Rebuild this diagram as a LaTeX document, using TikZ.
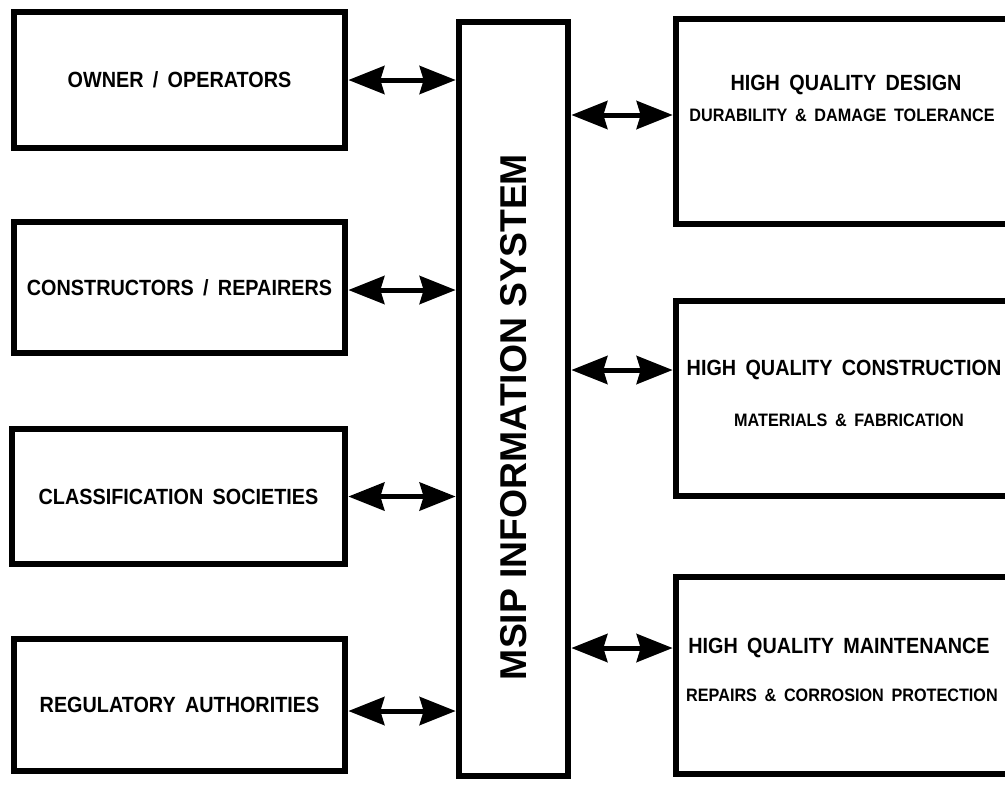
\documentclass[tikz,border=0pt]{standalone}
\usepackage{fontspec}
\newfontfamily\boxfont[FakeStretch=0.9,WordSpace=1.7]{Liberation Sans}
\newfontfamily\sysfont{Liberation Sans}
\usetikzlibrary{arrows.meta}

\tikzset{
  blk/.style={draw, line width=5pt, inner sep=0pt},
  lbl/.style={font=\boxfont\bfseries\fontsize{16.5}{18}\selectfont},
  sublbl/.style={font=\boxfont\bfseries\fontsize{13.5}{15}\selectfont},
  link/.style={line width=3.75pt, {Stealth[length=27pt,width=21pt,inset=3pt]}-{Stealth[length=27pt,width=21pt,inset=3pt]}},
}

\begin{document}
\begin{tikzpicture}[x=0.75pt,y=-0.75pt]
			%%%%% START %%%%%
			\useasboundingbox (0,0) rectangle (1005,785);
			
			% left column
			\node[blk, lbl, minimum width=331*0.75pt, minimum height=136*0.75pt] (own) at (179.5,80) {OWNER / OPERATORS};
			\node[blk, lbl, minimum width=331*0.75pt, minimum height=131*0.75pt] (cons) at (179.5,287.5) {CONSTRUCTORS / REPAIRERS};
			\node[blk, lbl, minimum width=333*0.75pt, minimum height=135*0.75pt] (clas) at (178.5,496.5) {CLASSIFICATION SOCIETIES};
			\node[blk, lbl, minimum width=331*0.75pt, minimum height=132*0.75pt] (regu) at (179.5,705) {REGULATORY AUTHORITIES};
			
			% information system
			\node[blk, minimum width=109*0.75pt, minimum height=754*0.75pt] (msip) at (513.5,399) {};
			\node[rotate=90, font=\sysfont\bfseries\fontsize{28}{30}\selectfont] (msiptxt) at (513.5,417) {MSIP INFORMATION SYSTEM};
			
			% right column
			\node[blk, minimum width=336*0.75pt, minimum height=205*0.75pt] (dsgn) at (844,121.5) {};
			\node[lbl] (dsgnA) at (846,85) {HIGH QUALITY DESIGN};
			\node[sublbl] (dsgnB) at (842,115) {DURABILITY \& DAMAGE TOLERANCE};
			
			\node[blk, minimum width=336*0.75pt, minimum height=195*0.75pt] (cnst) at (844,398.5) {};
			\node[lbl] (cnstA) at (844,370) {HIGH QUALITY CONSTRUCTION};
			\node[sublbl] (cnstB) at (849,420) {MATERIALS \& FABRICATION};
			
			\node[blk, minimum width=336*0.75pt, minimum height=197*0.75pt] (mnt) at (844,675.5) {};
			\node[lbl] (mntA) at (839,648) {HIGH QUALITY MAINTENANCE};
			\node[sublbl] (mntB) at (842,695) {REPAIRS \& CORROSION PROTECTION};
			
			% links
			\draw[link] (own.east) -- (own.east -| msip.west);
			\draw[link] (cons.east |- 0,290) -- (msip.west |- 0,290);
			\draw[link] (clas.east) -- (clas.east -| msip.west);
			\draw[link] (regu.east |- 0,711) -- (msip.west |- 0,711);
			
			\draw[link] (msip.east |- 0,115) -- (dsgn.west |- 0,115);
			\draw[link] (msip.east |- 0,370) -- (cnst.west |- 0,370);
			\draw[link] (msip.east |- 0,648) -- (mnt.west |- 0,648);
			
			%%%%% END %%%%%
\end{tikzpicture}
\end{document}
